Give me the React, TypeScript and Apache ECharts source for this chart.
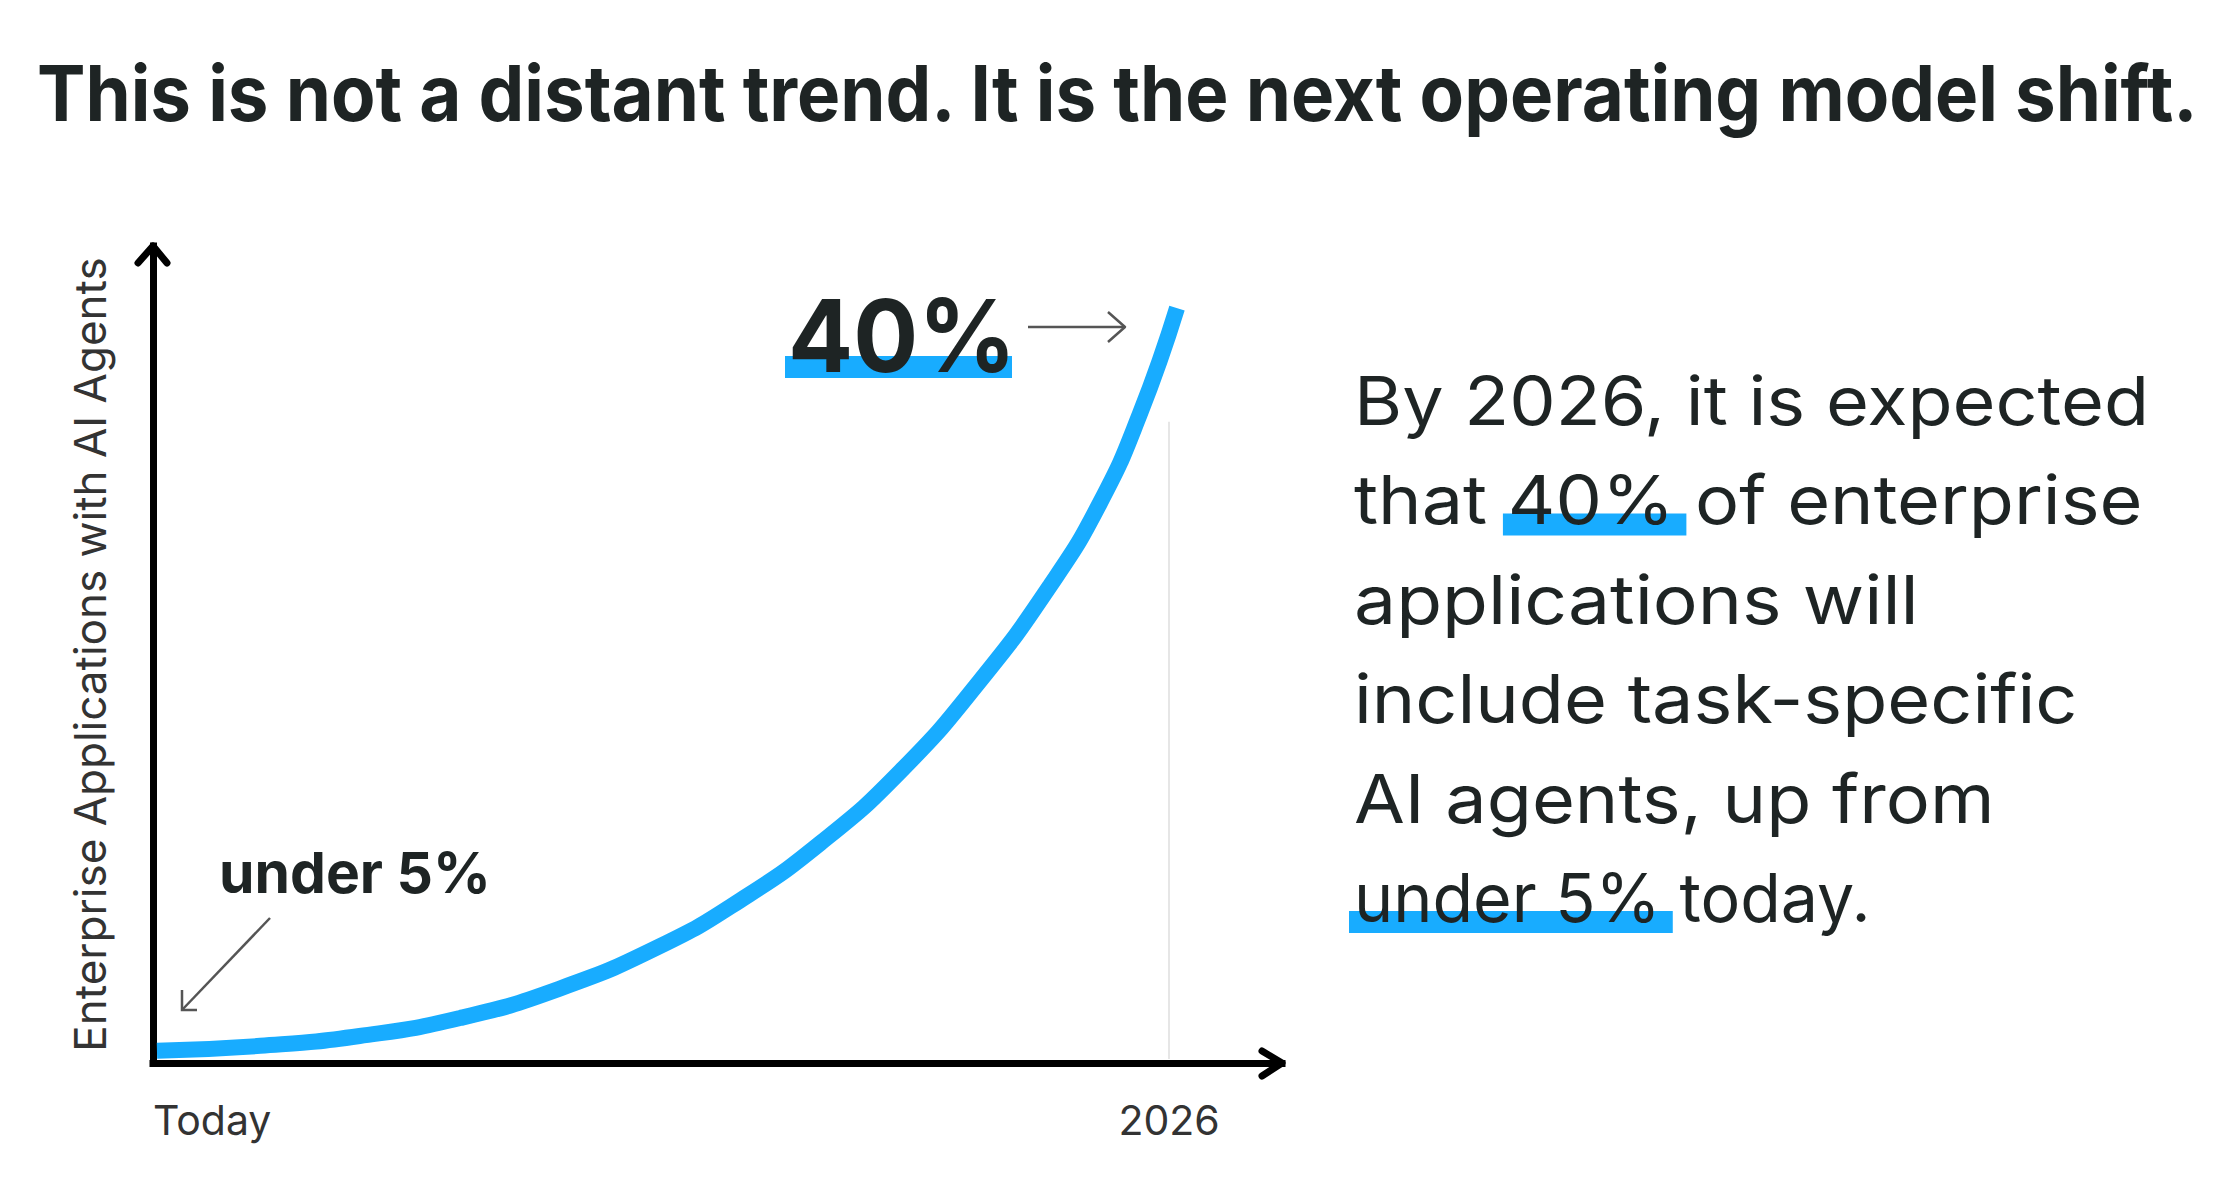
import React, { useEffect, useRef } from "react";
import * as echarts from "echarts";

// ---- data ----
const TITLE = "This is not a distant trend. It is the next operating model shift.";
const Y_AXIS_NAME = "Enterprise Applications with AI Agents";
const TICK_VALUES = [0, 90];
const TICK_LABELS = ["Today", "2026"];
// relative time (0 = today, 90 = 2026) and relative adoption level
const X_VALUES = [0.35, 9.5, 18.3, 27.2, 36.0, 44.9, 52.0, 59.1, 66.2, 73.2, 79.5, 83.9, 87.4, 90.7];
const Y_VALUES = [1.5, 2.1, 3.3, 5.5, 9.1, 14.3, 19.9, 26.9, 35.7, 46.7, 58.5, 68.6, 79.4, 92.4];
const MARKER_X = 90;
const MARKER_TOP = 78.5;
const MARKER_BOTTOM = 0.5;
const BIG_LABEL = "40%";
const SMALL_LABEL = "under 5%";
const PARAGRAPH = [
  "By 2026, it is expected",
  "that 40% of enterprise",
  "applications will",
  "include task-specific",
  "AI agents, up from",
  "under 5% today.",
];
const HIGHLIGHTS = [
  { line: 1, word: "40%" },
  { line: 5, word: "under 5%" },
];

// ---- layout ----
const W = 2232;
const H = 1185;
const GRID_LEFT = 153;
const GRID_TOP = 246;
const GRID_RIGHT_X = 1282;
const GRID_BOTTOM_Y = 1063;
const INK = "#1e2424";
const BLUE = "#18acff";
const FONT = "Inter, 'Noto Sans', sans-serif";

const PARA_LEFT = 1354;
const PARA_BASE0 = 425;
const PARA_LH = 99.4;
const PARA_FS = 67;
const PARA_SCALE = [1.1, 1.1, 1.12, 1.1, 1.1, 0.99];

function measure(text: string, font: string): number {
  const c = document.createElement("canvas");
  const ctx = c.getContext("2d");
  if (!ctx) return text.length * 30;
  ctx.font = font;
  return ctx.measureText(text).width;
}

export default function App() {
  const ref = useRef<HTMLDivElement>(null);

  useEffect(() => {
    if (!ref.current) return;
    const chart = echarts.init(ref.current, undefined, { renderer: "svg" });

    const paraFont = `400 ${PARA_FS}px Inter`;
    const graphics: any[] = [];

    // title
    graphics.push({
      type: "text",
      x: 37,
      y: 93,
      scaleX: 0.943,
      style: {
        text: TITLE,
        fontFamily: FONT,
        fontWeight: 700,
        fontSize: 77,
        fill: INK,
        align: "left",
        verticalAlign: "middle",
      },
    });

    // axis arrow heads
    graphics.push({
      type: "polyline",
      z: 20,
      shape: {
        points: [
          [GRID_LEFT - 15, GRID_TOP + 17],
          [GRID_LEFT, GRID_TOP],
          [GRID_LEFT + 14, GRID_TOP + 17],
        ],
      },
      style: { stroke: "#000", lineWidth: 7, fill: "none", lineCap: "round", lineJoin: "round" },
    });
    graphics.push({
      type: "polyline",
      z: 20,
      shape: {
        points: [
          [GRID_RIGHT_X - 20, GRID_BOTTOM_Y - 12],
          [GRID_RIGHT_X, GRID_BOTTOM_Y],
          [GRID_RIGHT_X - 20, GRID_BOTTOM_Y + 13],
        ],
      },
      style: { stroke: "#000", lineWidth: 7, fill: "none", lineCap: "round", lineJoin: "round" },
    });

    // "40%" annotation
    graphics.push({
      type: "rect",
      shape: { x: 785, y: 356, width: 227, height: 22 },
      style: { fill: BLUE },
    });
    graphics.push({
      type: "text",
      x: 788,
      y: 335,
      scaleX: 0.955,
      style: {
        text: BIG_LABEL,
        fontFamily: FONT,
        fontWeight: 700,
        fontSize: 101,
        fill: INK,
        align: "left",
        verticalAlign: "middle",
      },
    });
    graphics.push({
      type: "polyline",
      shape: { points: [[1028, 327], [1125, 327]] },
      style: { stroke: "#555", lineWidth: 2.5, fill: "none" },
    });
    graphics.push({
      type: "polyline",
      shape: { points: [[1108, 312], [1125, 327], [1108, 342]] },
      style: { stroke: "#555", lineWidth: 2.5, fill: "none", lineJoin: "round" },
    });

    // "under 5%" annotation
    graphics.push({
      type: "text",
      x: 219,
      y: 872,
      style: {
        text: SMALL_LABEL,
        fontFamily: FONT,
        fontWeight: 700,
        fontSize: 57,
        fill: INK,
        align: "left",
        verticalAlign: "middle",
      },
    });
    graphics.push({
      type: "polyline",
      shape: { points: [[270, 918], [182, 1010]] },
      style: { stroke: "#555", lineWidth: 2.5, fill: "none" },
    });
    graphics.push({
      type: "polyline",
      shape: { points: [[182, 990], [182, 1010], [197, 1010]] },
      style: { stroke: "#555", lineWidth: 2.5, fill: "none", lineJoin: "miter" },
    });

    // paragraph highlight bars (behind text)
    HIGHLIGHTS.forEach((h) => {
      const line = PARAGRAPH[h.line];
      const s = PARA_SCALE[h.line];
      const idx = line.indexOf(h.word);
      const x0 = PARA_LEFT + measure(line.slice(0, idx), paraFont) * s;
      const x1 = x0 + measure(h.word, paraFont) * s;
      const base = PARA_BASE0 + h.line * PARA_LH;
      graphics.push({
        type: "rect",
        shape: { x: x0 - 5, y: base - 11, width: x1 - x0 + 17, height: 22 },
        style: { fill: BLUE },
      });
    });

    // paragraph lines
    PARAGRAPH.forEach((line, i) => {
      const base = PARA_BASE0 + i * PARA_LH;
      graphics.push({
        type: "text",
        x: PARA_LEFT,
        y: base - 0.3635 * PARA_FS,
        scaleX: PARA_SCALE[i],
        z: 5,
        style: {
          text: line,
          fontFamily: FONT,
          fontWeight: 400,
          fontSize: PARA_FS,
          fill: INK,
          align: "left",
          verticalAlign: "middle",
        },
      });
    });

    const option: any = {
      animation: false,
      backgroundColor: "#ffffff",
      grid: {
        left: GRID_LEFT,
        top: GRID_TOP,
        right: W - GRID_RIGHT_X,
        bottom: H - GRID_BOTTOM_Y,
        containLabel: false,
      },
      xAxis: {
        type: "value",
        min: 0,
        max: 100,
        interval: 90,
        axisLine: { show: true, lineStyle: { color: "#000", width: 7, cap: "square" } },
        axisTick: { show: false },
        splitLine: { show: false },
        axisLabel: {
          show: true,
          margin: 36,
          fontSize: 41,
          fontFamily: FONT,
          color: "#333333",
          alignMinLabel: "left",
          showMaxLabel: false,
          formatter: (v: number) => {
            const i = TICK_VALUES.indexOf(v);
            return i >= 0 ? TICK_LABELS[i] : "";
          },
        },
      },
      yAxis: {
        type: "value",
        min: 0,
        max: 100,
        name: Y_AXIS_NAME,
        nameLocation: "middle",
        nameRotate: 90,
        nameGap: 41,
        nameTextStyle: { fontSize: 44, fontFamily: FONT, color: "#333333" },
        axisLine: { show: true, lineStyle: { color: "#000", width: 7, cap: "square" } },
        axisTick: { show: false },
        axisLabel: { show: false },
        splitLine: { show: false },
      },
      series: [
        {
          type: "line",
          data: X_VALUES.map((x, i) => [x, Y_VALUES[i]]),
          smooth: 0.5,
          showSymbol: false,
          symbol: "none",
          lineStyle: { color: BLUE, width: 16, cap: "butt" },
          silent: true,
          markLine: {
            silent: true,
            symbol: "none",
            label: { show: false },
            lineStyle: { color: "#e6e6e6", width: 2, type: "solid" },
            data: [[{ coord: [MARKER_X, MARKER_TOP] }, { coord: [MARKER_X, MARKER_BOTTOM] }]],
          },
        },
      ],
      graphic: graphics,
    };

    chart.setOption(option);
    return () => chart.dispose();
  }, []);

  return (
    <div
      ref={ref}
      style={{ position: "fixed", left: 0, top: 0, width: W, height: H, background: "#fff" }}
    />
  );
}
